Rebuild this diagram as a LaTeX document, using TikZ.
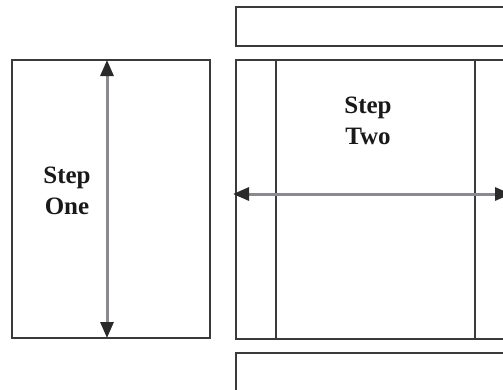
\documentclass[tikz,border=0pt]{standalone}
\usepackage{fontspec}
\setmainfont{Liberation Serif}
\usetikzlibrary{arrows.meta}
\definecolor{boxline}{HTML}{3A3A3A}
\definecolor{shaft}{HTML}{8A8A90}
\definecolor{headc}{HTML}{2A2A2A}
\tikzset{
  panel/.style={draw=boxline, line width=1.6pt, minimum width=#1, inner sep=0pt, outer sep=0pt},
  label/.style={font=\bfseries\fontsize{25}{31}\selectfont, align=center, text=black!90, inner sep=0pt},
  dimarrow/.style={draw=shaft, line width=3pt,
    {Triangle[length=16pt,width=13pt,color=headc]}-{Triangle[length=16pt,width=13pt,color=headc]}},
  divider/.style={draw=boxline, line width=1.6pt}
}
\begin{document}
\begin{tikzpicture}[x=1pt,y=-1pt]
\useasboundingbox (0,0) rectangle (503,389);
\clip (0,0) rectangle (503,389);
% left box
\node[panel=198pt, minimum height=278pt] (one) at (111,199) {};
% right boxes (run off the page)
\node[panel=300pt, minimum height=39pt] (top) at (386,26.5) {};
\node[panel=300pt, minimum height=279pt] (two) at (386,199.5) {};
\node[panel=300pt, minimum height=60pt] (bottom) at (386,383) {};
% inner dividers of step two
\coordinate (d1t) at (276,60); \coordinate (d1b) at (276,339);
\coordinate (d2t) at (475,60); \coordinate (d2b) at (475,339);
\draw[divider] (d1t) -- (d1b);
\draw[divider] (d2t) -- (d2b);
% labels
\node[label] (lone) at (67,191) {Step\\One};
\node[label] (ltwo) at (368,121) {Step\\Two};
% arrows
\coordinate (va) at (107,60);
\coordinate (vb) at (107,338);
\draw[dimarrow] (va) -- (vb);
\coordinate (ha) at (233,194);
\coordinate (hb) at (511,194);
\draw[dimarrow] (ha) -- (hb);
\end{tikzpicture}
\end{document}
